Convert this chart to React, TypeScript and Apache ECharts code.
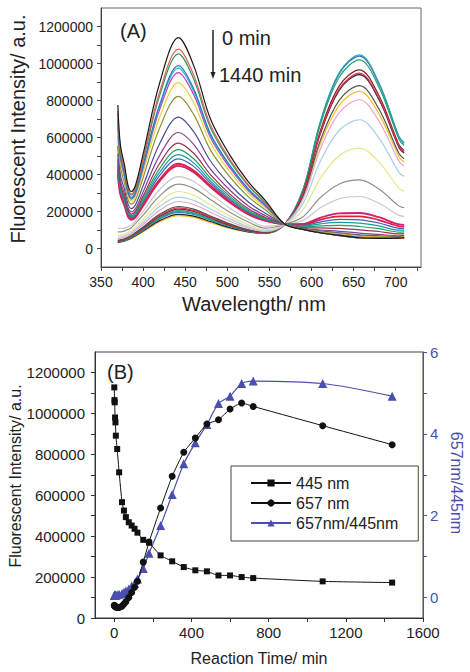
import React, { useEffect, useRef } from 'react';
import * as echarts from 'echarts';

// ---------- Panel A: emission spectra (intensity in thousands, a.u.) ----------
const wavelengths = [370, 373, 378, 382, 386, 391, 400, 420, 442, 460, 480, 503, 525, 545, 568, 590, 610, 633, 657, 680, 704, 710];

const spectraK: number[][] = [
  [776, 560, 448, 343, 308, 342, 510, 900, 1140, 990, 700, 505, 360, 260, 132, 103, 85, 71, 58, 55, 56, 58],
  [744, 536, 430, 329, 295, 327, 485, 852, 1078, 938, 667, 482, 344, 250, 132, 103, 85, 70, 57, 54, 55, 57],
  [730, 526, 418, 321, 289, 321, 475, 832, 1052, 916, 653, 472, 338, 246, 132, 103, 85, 70, 57, 54, 55, 57],
  [698, 503, 402, 307, 275, 305, 450, 783, 988, 864, 620, 449, 322, 236, 132, 103, 85, 71, 58, 55, 56, 58],
  [691, 498, 398, 304, 272, 301, 444, 773, 975, 852, 612, 444, 318, 234, 132, 104, 86, 73, 60, 57, 57, 59],
  [678, 488, 390, 298, 267, 296, 435, 755, 951, 832, 600, 435, 312, 230, 132, 104, 88, 74, 62, 59, 58, 60],
  [651, 469, 374, 286, 256, 283, 413, 713, 897, 788, 572, 415, 298, 221, 132, 105, 89, 77, 65, 61, 59, 61],
  [612, 441, 352, 264, 240, 264, 383, 656, 822, 725, 532, 387, 279, 209, 132, 106, 92, 82, 70, 65, 62, 64],
  [554, 399, 317, 241, 216, 237, 339, 570, 710, 632, 473, 346, 251, 191, 132, 107, 95, 85, 74, 69, 64, 66],
  [511, 368, 292, 222, 198, 216, 306, 506, 627, 563, 429, 316, 230, 178, 132, 109, 100, 93, 83, 76, 69, 71],
  [482, 347, 275, 208, 186, 202, 283, 462, 570, 515, 399, 294, 215, 169, 132, 113, 111, 109, 101, 92, 79, 80],
  [463, 333, 263, 199, 178, 193, 269, 435, 534, 485, 380, 281, 206, 163, 132, 117, 122, 125, 119, 107, 89, 90],
  [450, 324, 255, 193, 172, 187, 258, 414, 507, 463, 365, 271, 200, 159, 132, 121, 133, 141, 137, 122, 99, 99],
  [438, 315, 248, 187, 167, 181, 249, 397, 485, 444, 353, 263, 194, 156, 132, 125, 143, 157, 155, 138, 109, 108],
  [424, 305, 240, 181, 161, 174, 238, 375, 458, 421, 339, 253, 187, 151, 132, 129, 155, 174, 174, 154, 120, 118],
  [400, 290, 230, 172, 155, 168, 230, 366, 447, 412, 332, 248, 184, 150, 132, 133, 166, 190, 192, 169, 130, 128],
  [110, 108, 110, 117, 125, 150, 200, 320, 389, 362, 295, 218, 158, 120, 130, 152, 219, 269, 281, 245, 179, 174],
  [90, 90, 95, 103, 112, 136, 180, 286, 348, 325, 265, 196, 143, 110, 130, 172, 273, 349, 371, 321, 229, 221],
  [70, 72, 78, 86, 95, 117, 158, 252, 308, 288, 236, 175, 128, 102, 130, 210, 376, 503, 543, 467, 325, 310],
  [60, 62, 68, 76, 85, 105, 142, 228, 278, 260, 214, 160, 118, 96, 130, 244, 468, 639, 696, 598, 410, 390],
  [52, 54, 60, 69, 78, 97, 130, 208, 254, 238, 196, 147, 110, 92, 130, 267, 533, 735, 804, 689, 470, 446],
  [45, 47, 53, 61, 70, 86, 116, 186, 227, 213, 176, 133, 101, 88, 130, 284, 578, 802, 880, 754, 512, 485],
  [42, 44, 50, 58, 67, 83, 112, 180, 220, 206, 171, 129, 99, 87, 130, 299, 619, 863, 948, 812, 550, 521],
  [40, 42, 48, 56, 65, 80, 108, 174, 213, 200, 166, 126, 97, 86, 130, 303, 630, 879, 966, 827, 560, 530],
  [38, 40, 46, 54, 62, 77, 104, 168, 205, 193, 160, 122, 95, 85, 130, 315, 662, 927, 1020, 873, 589, 558],
  [36, 38, 44, 52, 60, 75, 102, 164, 200, 188, 156, 120, 94, 84, 130, 321, 679, 951, 1047, 896, 604, 572],
  [35, 37, 43, 50, 58, 73, 99, 160, 195, 184, 153, 118, 92, 83, 130, 319, 674, 945, 1040, 890, 601, 568],
  [33, 35, 41, 48, 56, 69, 94, 152, 185, 175, 146, 113, 90, 82, 130, 297, 614, 856, 940, 805, 545, 516],
  [32, 34, 40, 47, 54, 67, 90, 145, 177, 168, 140, 108, 88, 80, 130, 277, 560, 775, 849, 728, 495, 469],
];
const SPECTRA_UNIT = 1000;

const spectraColors = [
  '#1a1a1a', '#e0605a', '#2e9a5a', '#3b6fc4', '#25b5d5', '#c03fb0', '#e8d630', '#8a8f3a',
  '#4a4f9a', '#8a3f8f', '#a0304f', '#20a060', '#1a9aa0', '#4060c0', '#e02040', '#d02070',
  '#c8c8c8', '#909090', '#e6e68a', '#a8d0e8', '#f0a0c8', '#505050', '#e03050', '#802030',
  '#20a070', '#2aa0b0', '#3a70c0', '#202020', '#f0c020',
];

const topXLabels = [350, 400, 450, 500, 550, 600, 650, 700];
const topXTicks = [350, 375, 400, 425, 450, 475, 500, 525, 550, 575, 600, 625, 650, 675, 700, 725];
const topYLabels = [0, 200000, 400000, 600000, 800000, 1000000, 1200000];
const topYTicks = [0, 100000, 200000, 300000, 400000, 500000, 600000, 700000, 800000, 900000, 1000000, 1100000, 1200000];

// ---------- Panel B: kinetics ----------
const times = [0, 1, 2, 4, 6, 8, 15, 25, 40, 50, 60, 75, 90, 105, 120, 150, 180, 240, 300, 360, 420, 480, 540, 600, 660, 720, 1080, 1440];
const i445 = [1127000, 1065000, 1054000, 980000, 956000, 891000, 826000, 712000, 566000, 525000, 493000, 468000, 452000, 436000, 417000, 382000, 368000, 306000, 277000, 249000, 233000, 228000, 208000, 208000, 200000, 195000, 179000, 173000];
const i657 = [62000, 60000, 58000, 57000, 55000, 54000, 52000, 51000, 58000, 68000, 80000, 100000, 125000, 150000, 180000, 273000, 371000, 538000, 693000, 810000, 880000, 948000, 969000, 1021000, 1051000, 1034000, 940000, 847000];
const ratio = [0.05, 0.05, 0.05, 0.06, 0.06, 0.06, 0.07, 0.08, 0.1, 0.13, 0.16, 0.21, 0.28, 0.34, 0.45, 0.71, 1.08, 1.76, 2.52, 3.27, 3.78, 4.23, 4.74, 4.92, 5.23, 5.29, 5.23, 4.92];

const botXLabels = [0, 400, 800, 1200, 1600];
const botXTicks = [0, 200, 400, 600, 800, 1000, 1200, 1400, 1600];
const botYLabels = [0, 200000, 400000, 600000, 800000, 1000000, 1200000];
const botYTicks = [0, 100000, 200000, 300000, 400000, 500000, 600000, 700000, 800000, 900000, 1000000, 1100000, 1200000];
const ratioLabels = [0, 2, 4, 6];
const ratioTicks = [0, 1, 2, 3, 4, 5, 6];

const FONT = "'Liberation Sans', Arial, Helvetica, sans-serif";
const BLUE = '#4a4fae';
const AXIS = '#222';

function App() {
  const ref = useRef<HTMLDivElement>(null);

  useEffect(() => {
    if (!ref.current) return;
    const chart = echarts.init(ref.current, undefined, { renderer: 'svg' });

    const spectraSeries = spectraK.map((row, i) => ({
      type: 'line',
      xAxisIndex: 0,
      yAxisIndex: 0,
      data: row.map((v, j) => [wavelengths[j], v * SPECTRA_UNIT]),
      showSymbol: false,
      smooth: 0.35,
      lineStyle: { width: i === 14 || i === 15 ? 1.8 : 1.2, color: spectraColors[i] },
      itemStyle: { color: spectraColors[i] },
      z: 2 + (spectraK.length - i) / 100,
      silent: true,
    }));

    const axisLabelBase = { color: AXIS, fontFamily: FONT, formatter: (v: number) => String(v) };

    const option: any = {
      animation: false,
      grid: [
        { left: 101, top: 8, width: 320, height: 259, show: true, borderColor: '#666', borderWidth: 1 },
        { left: 95, top: 352, width: 328, height: 266, show: true, borderColor: '#3a4545', borderWidth: 1 },
      ],
      xAxis: [
        {
          type: 'value', gridIndex: 0, min: 350, max: 730,
          axisLine: { show: true, onZero: false, lineStyle: { color: '#444' } },
          axisTick: { show: true, inside: false, length: 4, customValues: topXTicks, lineStyle: { color: '#444' } },
          axisLabel: { ...axisLabelBase, customValues: topXLabels, fontSize: 14, margin: 8 },
          splitLine: { show: false },
        },
        {
          type: 'value', gridIndex: 1, min: -100, max: 1600,
          axisLine: { show: true, onZero: false, lineStyle: { color: '#333' } },
          axisTick: { show: true, inside: false, length: 4, customValues: botXTicks, lineStyle: { color: '#333' } },
          axisLabel: { ...axisLabelBase, customValues: botXLabels, fontSize: 15, margin: 7 },
          splitLine: { show: false },
        },
      ],
      yAxis: [
        {
          type: 'value', gridIndex: 0, min: -100000, max: 1300000,
          axisLine: { show: true, onZero: false, lineStyle: { color: '#444' } },
          axisTick: { show: true, inside: false, length: 4, customValues: topYTicks, lineStyle: { color: '#444' } },
          axisLabel: { ...axisLabelBase, customValues: topYLabels, fontSize: 14, margin: 8 },
          splitLine: { show: false },
        },
        {
          type: 'value', gridIndex: 1, min: 0, max: 1300000,
          axisLine: { show: true, onZero: false, lineStyle: { color: '#333' } },
          axisTick: { show: true, inside: false, length: 4, customValues: botYTicks, lineStyle: { color: '#333' } },
          axisLabel: { ...axisLabelBase, customValues: botYLabels, fontSize: 15, margin: 10 },
          splitLine: { show: false },
        },
        {
          type: 'value', gridIndex: 1, position: 'right', min: -0.5, max: 6,
          axisLine: { show: true, onZero: false, lineStyle: { color: BLUE } },
          axisTick: { show: true, inside: false, length: 4, customValues: ratioTicks, lineStyle: { color: BLUE } },
          axisLabel: { ...axisLabelBase, color: BLUE, customValues: ratioLabels, fontSize: 15, margin: 7 },
          splitLine: { show: false },
        },
      ],
      legend: {
        data: ['445 nm', '657 nm', '657nm/445nm'],
        orient: 'vertical',
        left: 231,
        top: 466,
        padding: [9, 20, 10, 19],
        itemWidth: 40,
        itemHeight: 9,
        itemGap: 4,
        borderColor: '#444',
        borderWidth: 1,
        backgroundColor: '#fff',
        selectedMode: false,
        textStyle: { fontFamily: FONT, fontSize: 16, color: '#222', lineHeight: 16 },
      },
      series: [
        ...spectraSeries,
        {
          name: '445 nm', type: 'line', xAxisIndex: 1, yAxisIndex: 1,
          data: times.map((t, i) => [t, i445[i]]),
          symbol: 'rect', symbolSize: 6, smooth: 0.15,
          lineStyle: { color: '#111', width: 1 }, itemStyle: { color: '#111' }, z: 5,
        },
        {
          name: '657 nm', type: 'line', xAxisIndex: 1, yAxisIndex: 1,
          data: times.map((t, i) => [t, i657[i]]),
          symbol: 'circle', symbolSize: 7, smooth: 0.15,
          lineStyle: { color: '#111', width: 1 }, itemStyle: { color: '#111' }, z: 5,
        },
        {
          name: '657nm/445nm', type: 'line', xAxisIndex: 1, yAxisIndex: 2,
          data: times.map((t, i) => [t, ratio[i]]),
          symbol: 'triangle', symbolSize: 9, smooth: 0.3,
          lineStyle: { color: BLUE, width: 1.2 }, itemStyle: { color: BLUE }, z: 4,
        },
      ],
      graphic: [
        { type: 'text', x: 120, y: 31, style: { text: '(A)', font: `20px ${FONT}`, fill: '#222', textVerticalAlign: 'middle' } },
        { type: 'line', shape: { x1: 213, y1: 30, x2: 213, y2: 74 }, style: { stroke: '#222', lineWidth: 1.5 } },
        { type: 'polygon', shape: { points: [[210.5, 72], [215.5, 72], [213, 79]] }, style: { fill: '#222' } },
        { type: 'text', x: 222, y: 38, style: { text: '0 min', font: `20px ${FONT}`, fill: '#222', textVerticalAlign: 'middle' } },
        { type: 'text', x: 219, y: 75, style: { text: '1440 min', font: `20px ${FONT}`, fill: '#222', textVerticalAlign: 'middle' } },
        { type: 'text', x: 18, y: 129, rotation: Math.PI / 2, style: { text: 'Fluorescent Intensity/ a.u.', font: `20px ${FONT}`, fill: '#222', textAlign: 'center', textVerticalAlign: 'middle' } },
        { type: 'text', x: 254, y: 304, style: { text: 'Wavelength/ nm', font: `20px ${FONT}`, fill: '#222', textAlign: 'center', textVerticalAlign: 'middle' } },
        { type: 'text', x: 107, y: 372, style: { text: '(B)', font: `20px ${FONT}`, fill: '#222', textVerticalAlign: 'middle' } },
        { type: 'text', x: 15, y: 476, rotation: Math.PI / 2, style: { text: 'Fluorescent Intensity/ a.u.', font: `16px ${FONT}`, fill: '#222', textAlign: 'center', textVerticalAlign: 'middle' } },
        { type: 'text', x: 259, y: 658, style: { text: 'Reaction Time/ min', font: `16px ${FONT}`, fill: '#222', textAlign: 'center', textVerticalAlign: 'middle' } },
        { type: 'text', x: 456, y: 483, rotation: -Math.PI / 2, style: { text: '657nm/445nm', font: `16px ${FONT}`, fill: BLUE, textAlign: 'center', textVerticalAlign: 'middle' } },
      ],
    };

    chart.setOption(option);
    return () => chart.dispose();
  }, []);

  return (
    <div
      ref={ref}
      style={{ position: 'fixed', left: 0, top: 0, width: 470, height: 672, background: '#fff' }}
    />
  );
}

export default App;
